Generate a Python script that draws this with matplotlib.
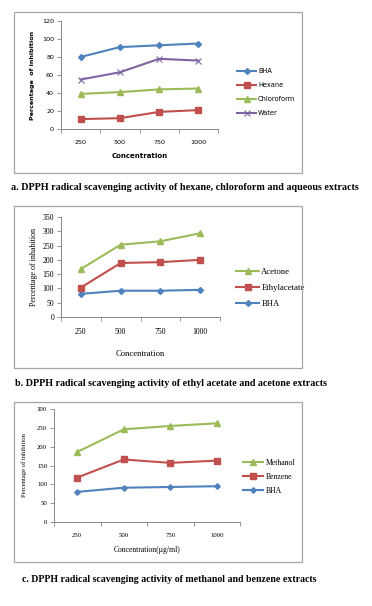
import matplotlib
matplotlib.use('Agg')
from matplotlib import pyplot as plt
from matplotlib.patches import Rectangle

W, H = 372, 606

conc = ['250', '500', '750', '1000']

# panel a
a_bha = [80, 91, 93, 95]
a_hexane = [11, 12, 19, 21]
a_chloroform = [39, 41, 44, 45]
a_water = [55, 63, 78, 76]

# panel b
b_acetone = [168, 253, 265, 293]
b_ethylacetate = [103, 189, 192, 200]
b_bha = [81, 92, 92, 95]

# panel c
c_methanol = [186, 246, 255, 262]
c_benzene = [118, 166, 157, 163]
c_bha = [80, 91, 93, 95]

BLUE = '#4F81BD'
RED = '#C0504D'
GREEN = '#9BBB59'
PURPLE = '#8064A2'
SERIF = 'Liberation Serif'


def px_axes(fig, x0, y0, x1, y1):
    # x0,y0 top-left ; x1,y1 bottom-right in pixels
    return fig.add_axes([x0 / W, 1 - y1 / H, (x1 - x0) / W, (y1 - y0) / H])


def box(fig, x0, y0, x1, y1):
    fig.patches.append(Rectangle((x0 / W, 1 - y1 / H), (x1 - x0) / W, (y1 - y0) / H,
                                 transform=fig.transFigure, fill=False,
                                 edgecolor='#A6A6A6', linewidth=0.9))


def style(ax, ymax, ystep, fs, family):
    ax.set_xlim(-0.5, 3.5)
    ax.set_ylim(0, ymax)
    ax.set_yticks(range(0, ymax + 1, ystep))
    ax.set_xticks(range(4))
    ax.set_xticklabels(conc)
    ax.set_xticks([-0.5, 0.5, 1.5, 2.5, 3.5], minor=True)
    ax.tick_params(axis='x', which='major', length=0, pad=8, labelsize=fs)
    ax.tick_params(axis='x', which='minor', length=3, width=0.6, color='#868686')
    ax.tick_params(axis='y', length=3, width=0.6, color='#868686', labelsize=fs, pad=2)
    for lab in ax.get_xticklabels() + ax.get_yticklabels():
        lab.set_family(family)
    for s in ['top', 'right']:
        ax.spines[s].set_visible(False)
    for s in ['left', 'bottom']:
        ax.spines[s].set_color('#868686')
        ax.spines[s].set_linewidth(0.7)


fig = plt.figure(figsize=(W / 100, H / 100), dpi=100)

# ---------- a ----------
box(fig, 14, 12, 302, 173)
ax = px_axes(fig, 61, 21, 218, 129)
x = range(4)
l1, = ax.plot(x, a_bha, color=BLUE, marker='D', ms=3, lw=1.5, label='BHA')
l2, = ax.plot(x, a_hexane, color=RED, marker='s', ms=4, lw=1.5, label='Hexane')
l3, = ax.plot(x, a_chloroform, color=GREEN, marker='^', ms=4, lw=1.5, label='Chloroform')
l4, = ax.plot(x, a_water, color=PURPLE, marker='x', ms=4, mew=0.8, lw=1.5, label='Water')
style(ax, 120, 20, 4.6, 'DejaVu Sans')
ax.set_ylabel('Percentage  of inhibition', fontsize=4.6, fontweight='bold', labelpad=5)
ax.set_xlabel('Concentration', fontsize=5, fontweight='bold', labelpad=6)
ax.legend(handles=[l1, l2, l3, l4], loc='center left', bbox_to_anchor=(234 / W, 1 - 92 / H),
          bbox_transform=fig.transFigure, frameon=False, fontsize=4.8,
          handlelength=2.8, handletextpad=0.3, labelspacing=1.2, borderpad=0)
fig.text(11 / W, 1 - 187 / H,
         'a. DPPH radical scavenging activity of hexane, chloroform and aqueous extracts',
         fontsize=7.3, fontweight='bold', family=SERIF, va='center', ha='left')

# ---------- b ----------
box(fig, 14, 206, 302, 368)
ax = px_axes(fig, 61, 217, 220, 317)
m1, = ax.plot(x, b_bha, color=BLUE, marker='D', ms=3, lw=1.5, label='BHA')
m2, = ax.plot(x, b_ethylacetate, color=RED, marker='s', ms=4.5, lw=1.5, label='Ethylacetate')
m3, = ax.plot(x, b_acetone, color=GREEN, marker='^', ms=4.5, lw=1.5, label='Acetone')
style(ax, 350, 50, 5.6, SERIF)
ax.set_ylabel('Percentage of inhabition', fontsize=5.8, family=SERIF, labelpad=3)
ax.set_xlabel('Concentration', fontsize=6.2, family=SERIF, labelpad=10)
ax.legend(handles=[m3, m2, m1], loc='center left', bbox_to_anchor=(232 / W, 1 - 288 / H),
          bbox_transform=fig.transFigure, frameon=False,
          prop={'family': SERIF, 'size': 6.2},
          handlelength=2.6, handletextpad=0.3, labelspacing=0.9, borderpad=0)
fig.text(15 / W, 1 - 383 / H,
         'b. DPPH radical scavenging activity of ethyl acetate and acetone extracts',
         fontsize=7.2, fontweight='bold', family=SERIF, va='center', ha='left')

# ---------- c ----------
box(fig, 14, 402, 302, 562)
ax = px_axes(fig, 54, 409, 240, 522)
n1, = ax.plot(x, c_bha, color=BLUE, marker='D', ms=2.8, lw=1.5, label='BHA')
n2, = ax.plot(x, c_benzene, color=RED, marker='s', ms=4.5, lw=1.5, label='Benzene')
n3, = ax.plot(x, c_methanol, color=GREEN, marker='^', ms=4.5, lw=1.5, label='Methanol')
style(ax, 300, 50, 4.9, SERIF)
ax.set_ylabel('Percentage of inhibition', fontsize=4.8, family=SERIF, labelpad=7)
ax.set_xlabel('Concentration(\u00b5g/ml)', fontsize=5.5, family=SERIF, labelpad=6)
ax.legend(handles=[n3, n2, n1], loc='center left', bbox_to_anchor=(239 / W, 1 - 477 / H),
          bbox_transform=fig.transFigure, frameon=False,
          prop={'family': SERIF, 'size': 5.6},
          handlelength=2.6, handletextpad=0.3, labelspacing=0.75, borderpad=0)
fig.text(22 / W, 1 - 579 / H,
         'c. DPPH radical scavenging activity of methanol and benzene extracts',
         fontsize=7.1, fontweight='bold', family=SERIF, va='center', ha='left')

fig.savefig('out.png', dpi=100)
